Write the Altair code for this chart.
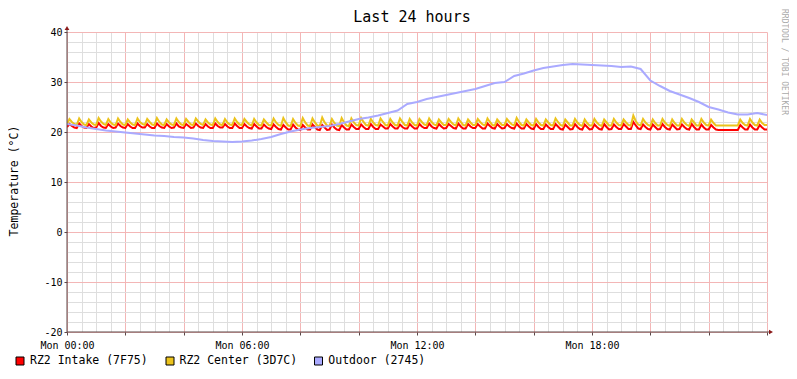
import altair as alt
import pandas as pd
import numpy as np

TITLE = "Last 24 hours"
Y_TITLE = "Temperature (°C)"
WATERMARK = "RRDTOOL / TOBI OETIKER"
SERIES = ["RZ2 Intake (7F75)", "RZ2 Center (3D7C)", "Outdoor (2745)"]
COLORS = ["#FF0000", "#ECC31C", "#AAAAFF"]

X_TICK_HOURS = [0, 6, 12, 18]
X_TICK_LABELS = ["Mon 00:00", "Mon 06:00", "Mon 12:00", "Mon 18:00"]
Y_TICKS = [-20, -10, 0, 10, 20, 30, 40]

# 5-minute samples, 00:00 .. 24:00
intake = [
    21.0, 21.6, 21.2, 20.9, 20.8, 21.7, 21.2, 20.9, 20.8, 21.6, 21.1, 20.8, 20.9, 21.8, 21.2, 20.9,
    20.8, 21.6, 21.1, 20.8, 20.9, 21.7, 21.2, 20.9, 20.8, 21.6, 21.1, 20.8, 20.8, 21.7, 21.2, 20.9,
    20.9, 21.6, 21.1, 20.8, 20.8, 21.7, 21.2, 20.9, 20.8, 21.6, 21.1, 20.8, 20.9, 21.7, 21.1, 20.9,
    20.8, 21.6, 21.2, 20.8, 20.9, 21.7, 21.2, 20.9, 20.8, 21.6, 21.1, 20.8, 20.8, 21.7, 21.2, 20.9,
    20.9, 21.6, 21.1, 20.8, 20.8, 21.7, 21.2, 20.8, 20.8, 21.6, 21.1, 20.8, 20.7, 21.6, 21.1, 20.7,
    20.7, 21.5, 21.0, 20.7, 20.6, 21.5, 21.0, 20.6, 20.5, 21.4, 20.9, 20.5, 20.5, 21.5, 20.9, 20.5,
    20.4, 21.4, 20.9, 20.5, 20.5, 21.5, 21.0, 20.5, 20.4, 21.4, 20.9, 20.4, 20.5, 21.5, 20.9, 20.5,
    20.4, 21.4, 20.9, 20.5, 20.5, 21.5, 21.0, 20.6, 20.6, 21.5, 21.0, 20.6, 20.6, 21.6, 21.0, 20.6,
    20.6, 21.5, 21.1, 20.7, 20.7, 21.6, 21.1, 20.7, 20.7, 21.5, 21.0, 20.7, 20.7, 21.6, 21.1, 20.7,
    20.7, 21.6, 21.1, 20.8, 20.8, 21.7, 21.1, 20.8, 20.7, 21.6, 21.1, 20.7, 20.8, 21.6, 21.2, 20.8,
    20.7, 21.7, 21.1, 20.7, 20.7, 21.6, 21.1, 20.8, 20.8, 21.6, 21.1, 20.7, 20.7, 21.7, 21.2, 20.8,
    20.7, 21.6, 21.1, 20.7, 20.8, 21.6, 21.1, 20.8, 20.7, 21.7, 21.1, 20.7, 20.7, 21.6, 21.1, 20.7,
    20.6, 21.6, 21.0, 20.6, 20.6, 21.5, 21.0, 20.6, 20.6, 21.6, 21.1, 20.6, 20.5, 21.5, 21.0, 20.5,
    20.6, 21.6, 21.0, 20.6, 20.5, 21.5, 21.0, 20.5, 20.6, 21.5, 21.0, 20.6, 20.5, 21.6, 21.0, 20.5,
    20.6, 21.5, 21.0, 20.6, 20.6, 21.6, 21.1, 20.6, 20.6, 22.0, 21.3, 20.7, 20.6, 21.5, 21.0, 20.6,
    20.5, 21.5, 21.0, 20.5, 20.6, 21.6, 21.0, 20.6, 20.5, 21.5, 21.0, 20.5, 20.6, 21.5, 21.0, 20.6,
    20.5, 21.6, 21.0, 20.5, 20.5, 21.5, 20.9, 20.5, 20.5, 21.4, 20.9, 20.5, 20.4, 20.4, 20.4, 20.4,
    20.4, 20.4, 20.4, 20.4, 20.4, 21.4, 20.9, 20.5, 20.5, 21.5, 20.9, 20.5, 20.5, 21.4, 20.9, 20.5,
    20.5,
]

center = [
    21.6, 22.6, 22.0, 21.6, 21.4, 22.7, 22.0, 21.5, 21.4, 22.5, 21.9, 21.5, 21.4, 22.8, 22.1, 21.6,
    21.4, 22.6, 21.9, 21.5, 21.4, 22.7, 22.0, 21.5, 21.4, 22.5, 21.9, 21.5, 21.4, 22.7, 22.0, 21.6,
    21.4, 22.6, 22.0, 21.5, 21.4, 22.8, 22.0, 21.5, 21.4, 22.5, 21.9, 21.5, 21.4, 22.7, 22.0, 21.5,
    21.4, 22.6, 22.0, 21.5, 21.4, 22.7, 22.1, 21.6, 21.4, 22.5, 21.9, 21.5, 21.4, 22.7, 22.0, 21.5,
    21.4, 22.6, 21.9, 21.5, 21.4, 22.7, 22.0, 21.5, 21.4, 22.6, 22.0, 21.5, 21.3, 22.6, 21.9, 21.4,
    21.3, 22.5, 21.9, 21.4, 21.3, 22.7, 21.9, 21.4, 21.2, 22.8, 21.9, 21.3, 21.2, 22.6, 21.8, 21.3,
    21.2, 22.8, 21.9, 21.3, 21.2, 22.7, 21.9, 21.3, 21.2, 22.9, 21.9, 21.3, 21.2, 22.6, 21.8, 21.3,
    21.2, 22.8, 21.9, 21.3, 21.2, 22.7, 21.9, 21.4, 21.3, 22.8, 22.0, 21.4, 21.3, 22.6, 21.9, 21.4,
    21.3, 22.7, 22.0, 21.4, 21.3, 22.6, 21.9, 21.4, 21.3, 22.7, 22.0, 21.4, 21.3, 22.6, 21.9, 21.4,
    21.3, 22.6, 22.0, 21.5, 21.4, 22.7, 22.0, 21.5, 21.3, 22.5, 21.9, 21.4, 21.4, 22.6, 22.0, 21.5,
    21.3, 22.7, 22.0, 21.4, 21.3, 22.5, 21.9, 21.4, 21.4, 22.6, 22.0, 21.5, 21.3, 22.7, 22.0, 21.4,
    21.3, 22.5, 21.9, 21.4, 21.4, 22.6, 22.0, 21.5, 21.3, 22.8, 22.0, 21.4, 21.3, 22.5, 21.9, 21.4,
    21.3, 22.6, 21.9, 21.4, 21.3, 22.5, 21.9, 21.4, 21.3, 22.7, 22.0, 21.4, 21.2, 22.5, 21.9, 21.3,
    21.3, 22.6, 21.9, 21.4, 21.2, 22.5, 21.8, 21.3, 21.3, 22.6, 21.9, 21.4, 21.2, 22.5, 21.9, 21.3,
    21.3, 22.6, 21.9, 21.4, 21.3, 22.5, 21.9, 21.4, 21.3, 23.3, 22.2, 21.5, 21.3, 22.6, 21.9, 21.4,
    21.2, 22.5, 21.8, 21.3, 21.3, 22.6, 21.9, 21.4, 21.2, 22.5, 21.8, 21.3, 21.3, 22.6, 21.9, 21.4,
    21.2, 22.5, 21.9, 21.3, 21.3, 22.6, 21.9, 21.4, 21.3, 22.5, 21.8, 21.3, 21.3, 21.3, 21.3, 21.3,
    21.3, 21.3, 21.3, 21.3, 21.3, 22.5, 21.8, 21.4, 21.3, 22.6, 21.9, 21.4, 21.3, 22.5, 21.8, 21.4,
    21.4,
]

# 20-minute samples, 00:00 .. 24:00
outdoor = [
    21.6, 21.3, 20.9, 20.6, 20.3, 20.1, 19.9, 19.7, 19.5, 19.3, 19.2, 19.0,
    18.9, 18.7, 18.4, 18.2, 18.1, 18.0, 18.1, 18.3, 18.6, 19.0, 19.6, 20.1,
    20.5, 20.8, 21.0, 21.2, 21.6, 22.1, 22.6, 22.9, 23.3, 23.8, 24.3, 25.6,
    26.0, 26.6, 27.0, 27.4, 27.8, 28.2, 28.6, 29.2, 29.8, 30.0, 31.2, 31.7,
    32.3, 32.8, 33.1, 33.4, 33.6, 33.5, 33.4, 33.3, 33.2, 33.0, 33.1, 32.6,
    30.3, 29.2, 28.2, 27.5, 26.8, 26.0, 25.0, 24.5, 23.9, 23.5, 23.5, 23.8,
    23.4,
]

STEP_FAST = 5 / 60
STEP_SLOW = 20 / 60

df_intake = pd.DataFrame({"hour": np.arange(len(intake)) * STEP_FAST, "temp": intake})
df_center = pd.DataFrame({"hour": np.arange(len(center)) * STEP_FAST, "temp": center})
df_outdoor = pd.DataFrame({"hour": np.arange(len(outdoor)) * STEP_SLOW, "temp": outdoor})
df_grid = pd.DataFrame({"hour": [0.0, 24.0], "temp": [-20.0, 40.0]})

FONT = "DejaVu Sans Mono"
MINOR = "#DEDEDE"
MAJOR = "#F3B6B6"
AXIS = "#5A4646"
ARROW = "#8B1A1A"

label_map = "{" + ", ".join(f"'{h}': '{l}'" for h, l in zip(X_TICK_HOURS, X_TICK_LABELS)) + "}"
x_label_expr = f"({label_map})[''+datum.value] || ''"
y_label_expr = "datum.value % 10 == 0 ? '' + datum.value : ''"

x_scale = alt.Scale(domain=[0, 24], nice=False, zero=False)
y_scale = alt.Scale(domain=[-20, 40], nice=False, zero=False)

x_axis = alt.Axis(
    values=[i * 0.5 for i in range(49)],
    labelExpr=x_label_expr,
    title=None,
    domain=False,
    grid=True,
    gridColor={"condition": {"test": "datum.value % 2 == 0", "value": MAJOR}, "value": MINOR},
    gridWidth=1,
    ticks=True,
    tickSize=3,
    tickColor={"condition": {"test": "datum.value % 2 == 0", "value": AXIS}, "value": "transparent"},
    labelFont=FONT,
    labelFontSize=10,
    labelColor="black",
    labelPadding=5,
    labelFlush=False,
    labelOverlap=False,
)
y_axis = alt.Axis(
    values=list(range(-20, 41, 2)),
    labelExpr=y_label_expr,
    title=None,
    domain=False,
    grid=True,
    gridColor={"condition": {"test": "datum.value % 10 == 0", "value": MAJOR}, "value": MINOR},
    gridWidth=1,
    ticks=True,
    tickSize=3,
    tickColor={"condition": {"test": "datum.value % 10 == 0", "value": AXIS}, "value": "transparent"},
    labelFont=FONT,
    labelFontSize=10,
    labelColor="black",
    labelPadding=2,
    labelOverlap=False,
)

X = alt.X("hour:Q", scale=x_scale, axis=x_axis)
Y = alt.Y("temp:Q", scale=y_scale, axis=y_axis)

# invisible layer that owns the axes / grid
grid_layer = alt.Chart(df_grid).mark_point(opacity=0, size=1).encode(x=X, y=Y)


def line(df, color):
    return alt.Chart(df).mark_line(color=color, strokeWidth=2, clip=True).encode(x=X, y=Y)


one = pd.DataFrame({"k": [0]})

layers = [
    grid_layer,
    line(df_intake, COLORS[0]),
    line(df_center, COLORS[1]),
    line(df_outdoor, COLORS[2]),
    # axis lines with arrows
    alt.Chart(one).mark_rule(color=AXIS, strokeWidth=1).encode(
        x=alt.value(0), y=alt.value(-3), y2=alt.value(300)),
    alt.Chart(one).mark_rule(color=AXIS, strokeWidth=1).encode(
        x=alt.value(0), x2=alt.value(702), y=alt.value(300)),
    alt.Chart(one).mark_point(shape="triangle-up", filled=True, color=ARROW, size=22, opacity=1).encode(
        x=alt.value(0), y=alt.value(-4)),
    alt.Chart(one).mark_point(shape="triangle-right", filled=True, color=ARROW, size=22, opacity=1).encode(
        x=alt.value(704), y=alt.value(300)),
    # title
    alt.Chart(one).mark_text(text=TITLE, font=FONT, fontSize=15, color="black", align="center", baseline="middle").encode(
        x=alt.value(345), y=alt.value(-15)),
    # y title
    alt.Chart(one).mark_text(text=Y_TITLE, font=FONT, fontSize=11.5, color="black", align="center", baseline="middle", angle=270).encode(
        x=alt.value(-52), y=alt.value(149)),
    # watermark
    alt.Chart(one).mark_text(text=WATERMARK, font=FONT, fontSize=8, color="#AAAAAA", align="center", baseline="middle", angle=90).encode(
        x=alt.value(716.5), y=alt.value(30)),
]

legend_pos = [(-47, -37), (103, 112.5), (251.5, 261.3)]
for name, color, (sx, tx) in zip(SERIES, COLORS, legend_pos):
    layers.append(
        alt.Chart(one).mark_square(color=color, fill=color, stroke="black", strokeWidth=1, size=64, opacity=1).encode(
            x=alt.value(sx), y=alt.value(329))
    )
    layers.append(
        alt.Chart(one).mark_text(text=name, font=FONT, fontSize=11.5, color="black", align="left", baseline="middle").encode(
            x=alt.value(tx), y=alt.value(329))
    )

chart = alt.layer(*layers).properties(
    width=700,
    height=300,
    padding={"left": 59, "top": 24, "right": 22, "bottom": 38},
    autosize=alt.AutoSizeParams(type="none"),
    background="white",
).configure_view(stroke=None)

chart.save("out.html", embed_options={"renderer": "svg", "actions": False})
